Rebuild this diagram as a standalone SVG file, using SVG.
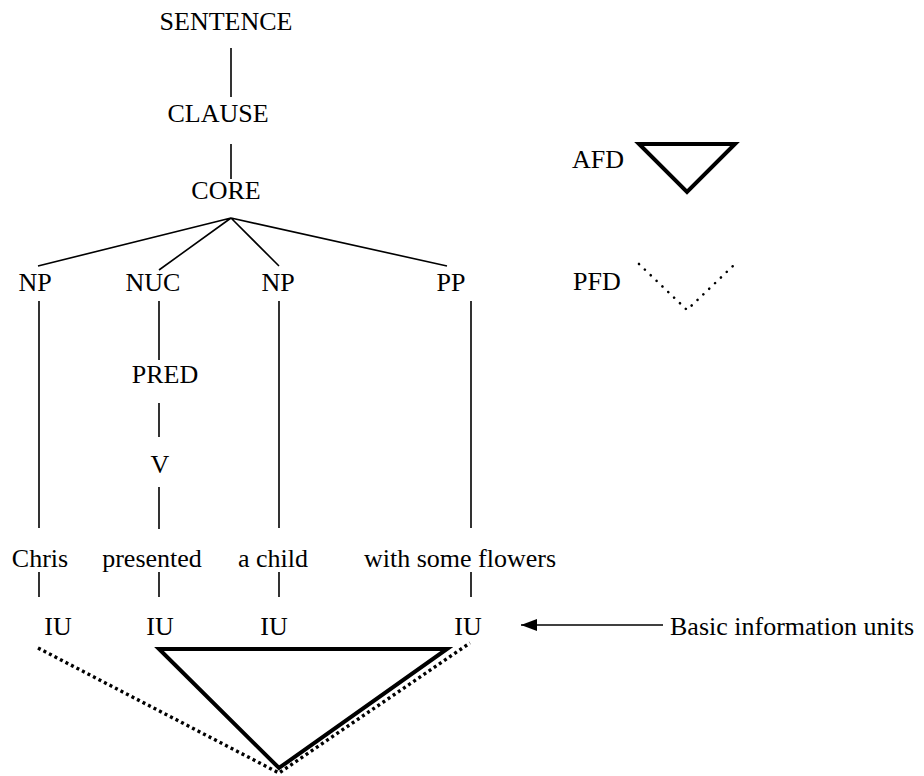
<svg xmlns="http://www.w3.org/2000/svg" width="924" height="776" viewBox="0 0 924 776">
  <style>
    text { font-family: "Liberation Serif", "Times New Roman", serif; font-size: 26px; fill: #000; }
    .c { text-anchor: middle; }
    .ln { stroke: #000; stroke-width: 1.6; fill: none; }
    .afd { stroke: #000; stroke-width: 4; fill: none; stroke-linejoin: miter; }
    .pfd { stroke: #000; stroke-width: 3.4; fill: none; stroke-dasharray: 3 3.2; }
    .pfd-key { stroke: #000; stroke-width: 2.6; fill: none; stroke-dasharray: 0.1 8; stroke-linecap: round; }
  </style>
  <defs>
    <marker id="arrowhead" markerWidth="16" markerHeight="14" refX="16" refY="7" orient="auto" markerUnits="userSpaceOnUse">
      <path d="M0,1 L16,7 L0,13 Z" fill="#000"/>
    </marker>
  </defs>

  <rect width="924" height="776" fill="#fff"/>

  <!-- tree nodes -->
  <g id="sentence"><text class="c" x="226" y="30">SENTENCE</text></g>
  <g id="clause"><text class="c" x="218" y="122">CLAUSE</text></g>
  <g id="core"><text class="c" x="226" y="199">CORE</text></g>
  <g id="np1"><text class="c" x="35" y="291">NP</text></g>
  <g id="nuc"><text class="c" x="153" y="291">NUC</text></g>
  <g id="np2"><text class="c" x="278" y="291">NP</text></g>
  <g id="pp"><text class="c" x="451" y="291">PP</text></g>
  <g id="pred"><text class="c" x="165" y="383">PRED</text></g>
  <g id="v"><text class="c" x="160" y="473">V</text></g>

  <!-- words -->
  <g id="w-chris"><text class="c" x="40" y="567">Chris</text></g>
  <g id="w-presented"><text class="c" x="152" y="567">presented</text></g>
  <g id="w-achild"><text class="c" x="273" y="567">a child</text></g>
  <g id="w-flowers"><text x="364" y="567">with some flowers</text></g>

  <!-- information units -->
  <g id="iu1"><text class="c" x="58" y="635">IU</text></g>
  <g id="iu2"><text class="c" x="160" y="635">IU</text></g>
  <g id="iu3"><text class="c" x="274" y="635">IU</text></g>
  <g id="iu4"><text class="c" x="468" y="635">IU</text></g>
  <g id="iu-label"><text x="670" y="635">Basic information units</text></g>

  <!-- focus-domain key -->
  <g id="key-afd">
    <text x="572" y="168">AFD</text>
    <path class="afd" d="M639,144 L735,144 L687,192 Z"/>
  </g>
  <g id="key-pfd">
    <text x="573" y="290">PFD</text>
    <path class="pfd-key" d="M639,264 L687,310 L735,264"/>
  </g>

  <!-- connectors -->
  <g id="connectors">
    <path class="ln" d="M231,48 V97"/>
    <path class="ln" d="M231,144 V179"/>
    <path class="ln" d="M38,266 L231,218 L159,270 M231,218 L279,266 M231,218 L447,266"/>
    <path class="ln" d="M39,301 V528 M39,572 V597"/>
    <path class="ln" d="M159,301 V360 M159,403 V437 M159,487 V529 M159,572 V597"/>
    <path class="ln" d="M279,301 V528 M279,572 V597"/>
    <path class="ln" d="M471,301 V528 M471,572 V597"/>
    <path class="ln" d="M663,625 H521" marker-end="url(#arrowhead)"/>
  </g>

  <!-- focus domains over the information units -->
  <g id="afd-domain">
    <path class="afd" d="M159,649 L447,649 L279,768 Z"/>
  </g>
  <g id="pfd-domain">
    <path class="pfd" d="M38,648 L279,773 L470,643"/>
  </g>
</svg>
